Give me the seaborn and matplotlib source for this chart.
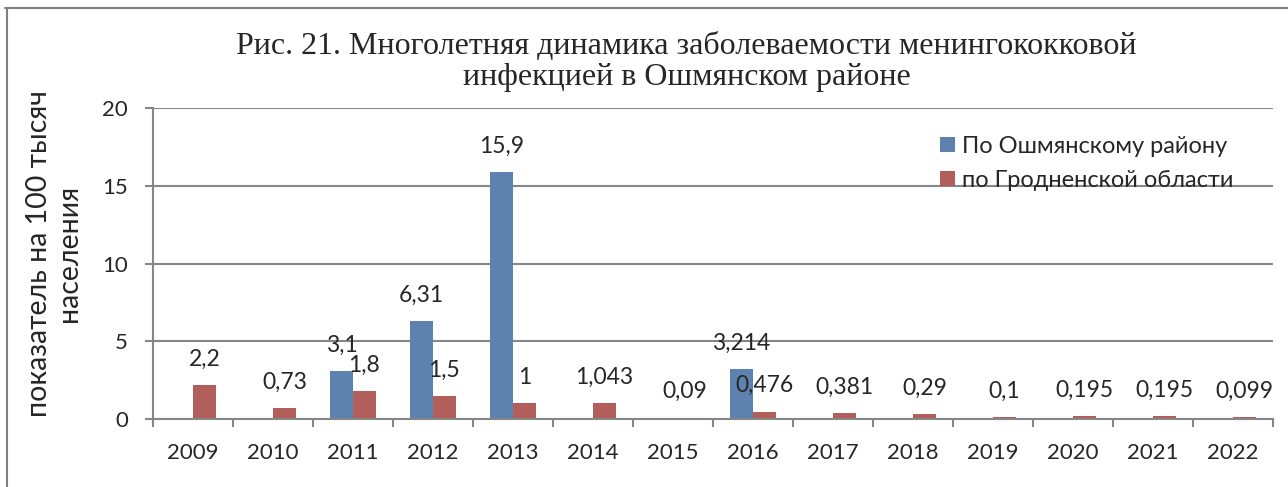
import numpy as np
import pandas as pd
import seaborn as sns
import matplotlib
matplotlib.use("Agg")
import matplotlib.pyplot as plt
from matplotlib.lines import Line2D

# данные
years = ["2009", "2010", "2011", "2012", "2013", "2014", "2015",
         "2016", "2017", "2018", "2019", "2020", "2021", "2022"]
oshmyany = [np.nan, np.nan, 3.1, 6.31, 15.9, np.nan, np.nan,
            3.214, np.nan, np.nan, np.nan, np.nan, np.nan, np.nan]
grodno = [2.2, 0.73, 1.8, 1.5, 1, 1.043, 0.09,
          0.476, 0.381, 0.29, 0.1, 0.195, 0.195, 0.099]
series_names = ["По Ошмянскому району", "по Гродненской области"]
colors = ["#4F81BD", "#C0504D"]

title = ("Рис. 21. Многолетняя динамика заболеваемости менингококковой\n"
         "инфекцией в Ошмянском районе")
ylabel = "показатель на 100 тысяч\nнаселения"

df = pd.DataFrame({
    "year": years * 2,
    "value": oshmyany + grodno,
    "series": [series_names[0]] * len(years) + [series_names[1]] * len(years),
}).dropna()

sns.set_style("white")
plt.rcParams["font.family"] = ["Lato", "DejaVu Sans"]

fig = plt.figure(figsize=(12.88, 4.87), dpi=100)
ax = fig.add_axes([153 / 1288, 1 - 419 / 487, 1120 / 1288, 311 / 487])

sns.barplot(data=df, x="year", y="value", hue="series", order=years,
            hue_order=series_names, palette=colors, width=0.5714,
            linewidth=0, errorbar=None, ax=ax)

for cont in ax.containers:
    ax.bar_label(cont, fmt=lambda v: f"{v:g}".replace(".", ","),
                 padding=11, fontsize=16.5)

ax.set_xlim(-0.5, len(years) - 0.5)
ax.set_ylim(0, 20)
ax.set_yticks([0, 5, 10, 15, 20])
ax.set_xlabel("")
ax.set_ylabel("")
ax.yaxis.grid(True, color="#868686", linewidth=1.5)
ax.set_axisbelow(True)

for s in ["top", "right"]:
    ax.spines[s].set_visible(False)
for s in ["left", "bottom"]:
    ax.spines[s].set_color("#868686")
    ax.spines[s].set_linewidth(1.5)

ax.tick_params(axis="y", left=True, length=6, width=1.5, color="#868686",
               labelsize=16, pad=12)
ax.tick_params(axis="x", which="major", length=0, labelsize=16, pad=17)
ax.set_xticks(np.arange(-0.5, len(years), 1.0), minor=True)
ax.tick_params(axis="x", which="minor", bottom=True, length=6, width=1.5,
               color="#868686")

handles, labels = ax.get_legend_handles_labels()
ax.legend(handles, labels, loc="upper left", bbox_to_anchor=(0.703, 0.91),
          frameon=False, fontsize=17, handlelength=0.6, handleheight=0.6,
          handletextpad=0.3, labelspacing=0.55, borderpad=0, borderaxespad=0)

fig.text(0.533, 1 - 62 / 487, title, ha="center", va="center",
         family="Liberation Serif", fontsize=23, linespacing=1.1)
fig.text(54 / 1288, 0.48, ylabel, rotation=90, ha="center", va="center",
         fontsize=20.5, multialignment="center", linespacing=1.15)

# рамка диаграммы
fig.add_artist(Line2D([0.004, 1.0], [1 - 8 / 487, 1 - 8 / 487],
                      color="#808080", linewidth=1.5, transform=fig.transFigure))
fig.add_artist(Line2D([7 / 1288, 7 / 1288], [0, 1 - 8 / 487],
                      color="#808080", linewidth=1.5, transform=fig.transFigure))

fig.savefig("out.png", dpi=100)
